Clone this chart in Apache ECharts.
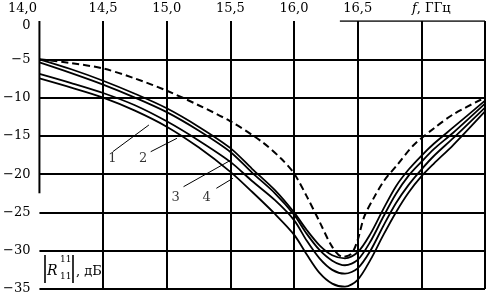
<!DOCTYPE html>
<html>
<head>
<meta charset="utf-8">
<script src="https://cdn.jsdelivr.net/npm/echarts@6/dist/echarts.min.js"></script>
<style>
html, body { margin: 0; padding: 0; background: #fff; }
#chart { width: 488px; height: 296px; }
</style>
</head>
<body>
<div id="chart"></div>
<script>
// частоты, ГГц
const freq = [14.0, 14.25, 14.5, 14.75, 15.0, 15.25, 15.5, 15.67, 15.85, 16.0, 16.1, 16.2, 16.3, 16.4, 16.5, 16.6, 16.7, 16.8, 16.9, 17.0, 17.1, 17.25, 17.5];
// |R11|, дБ, сплошные кривые
const curve1 = [-5.0, -6.3, -7.8, -9.5, -11.4, -13.8, -16.6, -19.3, -22.1, -25.0, -27.3, -29.3, -30.6, -31.0, -30.2, -27.8, -24.6, -21.6, -19.4, -17.6, -16.0, -13.9, -10.4];
const curve2 = [-5.4, -6.8, -8.3, -10.0, -11.9, -14.3, -17.1, -19.8, -22.5, -25.3, -27.8, -29.9, -31.3, -31.9, -31.2, -28.8, -25.6, -22.6, -20.2, -18.4, -16.7, -14.6, -10.8];
const curve3 = [-6.9, -8.1, -9.4, -11.0, -13.1, -15.6, -18.4, -20.9, -23.4, -26.0, -28.7, -31.0, -32.5, -33.0, -32.3, -30.0, -26.8, -23.8, -21.4, -19.4, -17.6, -15.3, -11.3];
const curve4 = [-7.5, -8.7, -10.0, -11.7, -13.8, -16.5, -19.7, -22.3, -25.2, -27.9, -30.5, -32.9, -34.3, -34.7, -33.8, -31.2, -28.0, -25.0, -22.4, -20.3, -18.6, -16.2, -11.8];
// пунктирная кривая
const dashFreq = [14.0, 14.25, 14.5, 14.75, 15.0, 15.25, 15.5, 15.75, 15.9, 16.0, 16.1, 16.2, 16.3, 16.38, 16.45, 16.5, 16.55, 16.63, 16.71, 16.81, 16.94, 17.1, 17.25, 17.5];
const dashVal = [-5.0, -5.5, -6.2, -7.5, -9.1, -11.0, -13.1, -15.8, -18.0, -19.9, -22.9, -26.2, -29.5, -30.8, -30.4, -28.6, -25.6, -23.0, -20.8, -18.8, -16.2, -14.0, -12.2, -10.0];

// подписи кривых и выноски
const curveLabels = [['1', 14.574, -18.0], ['2', 14.814, -18.0], ['3', 15.07, -23.05], ['4', 15.314, -23.1]];
const leaders = [
    [[14.576, -17.07], [14.86, -13.58]],
    [[14.874, -17.07], [15.08, -15.32]],
    [[15.132, -21.64], [15.506, -18.15]],
    [[15.39, -21.85], [15.52, -20.54]]
];
// куски рамки, которые есть на рисунке
const topEdge = [[16.36, 0], [17.5, 0]];
const leftEdge = [[14.0, 0], [14.0, -22.5]];

const xTicks = { '14': '14,0', '14.5': '14,5', '15': '15,0', '15.5': '15,5', '16': '16,0', '16.5': '16,5', '17': 'f, ГГц', '17.5': '' };

const FONT = 'DejaVu Serif';
const pairs = (xs, ys) => xs.map((x, i) => [x, ys[i]]);

const solid = (data) => ({
    type: 'line',
    data: data,
    showSymbol: false,
    silent: true,
    smooth: 0.3,
    lineStyle: { color: '#000', width: 1.8 }
});

const thin = (data, w) => ({
    type: 'line',
    data: data,
    showSymbol: false,
    silent: true,
    lineStyle: { color: '#000', width: w }
});

const chart = echarts.init(document.getElementById('chart'), null, { renderer: 'canvas' });

const option = {
    animation: false,
    backgroundColor: '#fff',
    grid: { left: 34, right: 2, top: 21, bottom: 7 },
    xAxis: {
        type: 'value',
        position: 'top',
        min: 14,
        max: 17.5,
        interval: 0.5,
        axisLine: { show: false },
        axisTick: { show: false },
        splitLine: { show: true, showMinLine: false, lineStyle: { color: '#000', width: 2 } },
        axisLabel: {
            margin: 6,
            color: '#000',
            fontFamily: FONT,
            fontSize: 13,
            formatter: (v) => {
                const t = xTicks[String(v)];
                if (v === 14) return '{first|' + t + '}';
                if (v === 17) return '{it|f}{f|, ГГц}';
                return t === undefined ? '' : t;
            },
            rich: {
                first: { fontFamily: FONT, fontSize: 13, color: '#000', padding: [0, 34, 0, 0] },
                it: { fontFamily: FONT, fontSize: 13, fontStyle: 'italic', color: '#000', padding: [0, 0, 0, 20] },
                f: { fontFamily: FONT, fontSize: 13, color: '#000' }
            }
        }
    },
    yAxis: {
        type: 'value',
        min: -35,
        max: 0,
        interval: 5,
        axisLine: { show: false },
        axisTick: { show: false },
        splitLine: { show: true, showMaxLine: false, lineStyle: { color: '#000', width: 2 } },
        axisLabel: {
            margin: 9,
            color: '#000',
            fontFamily: FONT,
            fontSize: 13,
            formatter: (v) => {
                if (v === 0) return '{zero|0}';
                return '\u2212' + Math.abs(v);
            },
            rich: {
                zero: { fontFamily: FONT, fontSize: 13, color: '#000', padding: [10, 0, 0, 0] }
            }
        }
    },
    graphic: [
        {
            type: 'group',
            left: 38,
            top: 251,
            z: 100,
            children: [
                { type: 'rect', shape: { x: 0, y: 0, width: 74, height: 33 }, style: { fill: '#fff' } },
                { type: 'line', shape: { x1: 7, y1: 4, x2: 7, y2: 32 }, style: { stroke: '#000', lineWidth: 1.6 } },
                { type: 'text', x: 9, y: 13, style: { text: 'R', font: 'italic 14px "DejaVu Serif"', fill: '#000' } },
                { type: 'text', x: 22, y: 4, style: { text: '11', font: '9px "DejaVu Serif"', fill: '#000' } },
                { type: 'text', x: 22, y: 21, style: { text: '11', font: '9px "DejaVu Serif"', fill: '#000' } },
                { type: 'line', shape: { x1: 35, y1: 4, x2: 35, y2: 32 }, style: { stroke: '#000', lineWidth: 1.6 } },
                { type: 'text', x: 38, y: 14, style: { text: ', дБ', font: '13px "DejaVu Serif"', fill: '#000' } }
            ]
        }
    ],
    series: [
        solid(pairs(freq, curve1)),
        solid(pairs(freq, curve2)),
        solid(pairs(freq, curve3)),
        solid(pairs(freq, curve4)),
        {
            type: 'line',
            data: pairs(dashFreq, dashVal),
            showSymbol: false,
            silent: true,
            smooth: 0.3,
            lineStyle: { color: '#000', width: 2, type: [7, 4] }
        },
        thin(topEdge, 1.5),
        thin(leftEdge, 2),
        ...leaders.map(l => thin(l, 1)),
        {
            type: 'scatter',
            symbolSize: 0,
            silent: true,
            data: curveLabels.map(c => ({ name: c[0], value: [c[1], c[2]] })),
            label: {
                show: true,
                position: 'inside',
                formatter: '{b}',
                color: '#000',
                fontFamily: FONT,
                fontSize: 13
            }
        }
    ]
};

chart.setOption(option);
</script>
</body>
</html>
